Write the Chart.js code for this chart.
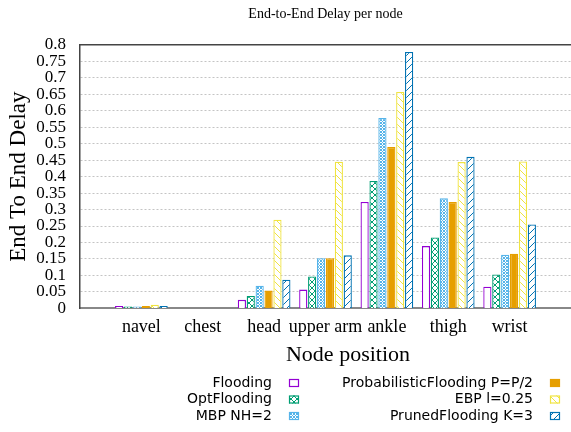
<!DOCTYPE html>
<html>
<head>
<meta charset="utf-8">
<script src="https://cdn.jsdelivr.net/npm/chart.js@4"></script>
<style>
    html, body { margin: 0; padding: 0; background: #fff; }
    #wrap { width: 571px; height: 432px; }
</style>
</head>
<body>
<div id="wrap"><canvas id="delayChart"></canvas></div>
<script>

const nodes = ['navel', 'chest', 'head', 'upper arm', 'ankle', 'thigh', 'wrist'];

const flooding      = [0.007, 0, 0.026, 0.057, 0.323, 0.189, 0.066];
const optFlooding   = [0.006, 0, 0.038, 0.097, 0.387, 0.215, 0.103];
const mbp           = [0.006, 0, 0.069, 0.152, 0.578, 0.334, 0.163];
const probFlooding  = [0.007, 0, 0.054, 0.152, 0.490, 0.323, 0.166];
const ebp           = [0.011, 0, 0.269, 0.445, 0.657, 0.444, 0.446];
const prunedFlooding = [0.007, 0, 0.087, 0.161, 0.778, 0.460, 0.255];

const yTicks = [0, 0.05, 0.1, 0.15, 0.2, 0.25, 0.3, 0.35, 0.4, 0.45, 0.5, 0.55, 0.6, 0.65, 0.7, 0.75, 0.8];

const colors = {
    purple: '#9400d3',
    green: '#009e73',
    sky: '#56b4e9',
    orange: '#e69f00',
    yellow: '#f0e442',
    blue: '#0072b2'
};

const serif = "'Liberation Serif', 'DejaVu Serif', serif";
const sans = "'DejaVu Sans', sans-serif";


// gnuplot-like fill patterns
function makePattern(color, kind) {
    const size = kind === 'fine' ? 3 : (kind === 'cross' ? 6 : 7);
    const c = document.createElement('canvas');
    c.width = size;
    c.height = size;
    const g = c.getContext('2d');
    g.fillStyle = '#fff';
    g.fillRect(0, 0, size, size);
    g.strokeStyle = color;
    g.lineWidth = 1;
    g.beginPath();
    if (kind === 'cross' || kind === 'fine' || kind === 'back') {
        g.moveTo(0, 0);
        g.lineTo(size, size);
    }
    if (kind === 'cross' || kind === 'fine' || kind === 'fwd') {
        g.moveTo(0, size);
        g.lineTo(size, 0);
    }
    g.stroke();
    return g.createPattern(c, 'repeat');
}

const ctxEl = document.getElementById('delayChart');

const series = [
    { label: 'Flooding', data: flooding, color: colors.purple, fill: '#fff' },
    { label: 'OptFlooding', data: optFlooding, color: colors.green, fill: makePattern(colors.green, 'cross') },
    { label: 'MBP NH=2', data: mbp, color: colors.sky, fill: makePattern(colors.sky, 'fine') },
    { label: 'ProbabilisticFlooding P=P/2', data: probFlooding, color: colors.orange, fill: colors.orange },
    { label: 'EBP l=0.25', data: ebp, color: colors.yellow, fill: makePattern(colors.yellow, 'back') },
    { label: 'PrunedFlooding K=3', data: prunedFlooding, color: colors.blue, fill: makePattern(colors.blue, 'fwd') }
];


// x label and legend drawn gnuplot style: right aligned text, key box after it
const gnuLegend = {
    id: 'gnuLegend',
    afterDraw(chart) {
        const ctx = chart.ctx;
        const H = chart.height;
        const area = chart.chartArea;
        ctx.save();

        ctx.font = '22px ' + serif;
        ctx.fillStyle = '#000';
        ctx.textAlign = 'center';
        ctx.textBaseline = 'middle';
        ctx.fillText('Node position', area.left + 268, area.bottom + 47);

        const cols = [{ textRight: 272, box: 289 }, { textRight: 533, box: 550 }];
        ctx.font = '14px ' + sans;
        ctx.textAlign = 'right';
        chart.data.datasets.forEach((ds, i) => {
            const col = cols[Math.floor(i / 3)];
            const y = H - 49 + (i % 3) * 16.5;
            ctx.fillStyle = '#000';
            ctx.fillText(ds.label, col.textRight, y);
            ctx.fillStyle = ds.backgroundColor;
            ctx.fillRect(col.box, y - 4, 10, 8);
            ctx.strokeStyle = ds.borderColor;
            ctx.lineWidth = 1.2;
            ctx.strokeRect(col.box + 0.5, y - 3.5, 9, 7);
        });
        ctx.restore();
    }
};


new Chart(ctxEl, {
    type: 'bar',
    data: {
        datasets: series.map(s => ({
            label: s.label,
            data: s.data.map((v, i) => ({ x: i, y: v })),
            backgroundColor: s.fill,
            borderColor: s.color,
            borderWidth: 1.3,
            borderSkipped: 'start'
        }))
    },
    options: {
        responsive: true,
        maintainAspectRatio: false,
        animation: false,
        categoryPercentage: 0.87,
        barPercentage: 0.92,
        layout: {
            padding: { left: 0, right: 0, top: 4, bottom: 86 }
        },
        plugins: {
            legend: { display: false },
            tooltip: { enabled: false },
            title: {
                display: true,
                text: 'End-to-End Delay per node',
                fullSize: false,
                color: '#000',
                font: { family: serif, size: 14, weight: 'normal' },
                padding: { top: 2, bottom: 22 }
            }
        },
        scales: {
            x: {
                type: 'linear',
                min: -1,
                max: 7,
                offset: false,
                afterBuildTicks: axis => {
                    axis.ticks = nodes.map((_, i) => ({ value: i }));
                },
                ticks: {
                    autoSkip: false,
                    maxRotation: 0,
                    padding: 8,
                    color: '#000',
                    font: { family: serif, size: 18 },
                    callback: v => nodes[v]
                },
                grid: { display: false, drawTicks: false },
                border: { color: '#888', width: 2 }
            },
            top: {
                type: 'linear',
                position: 'top',
                display: true,
                ticks: { display: false },
                grid: { display: false, drawTicks: false },
                border: { color: '#444', width: 1.5 }
            },
            y: {
                min: 0,
                max: 0.8,
                afterBuildTicks: axis => {
                    axis.ticks = yTicks.map(v => ({ value: v }));
                },
                afterFit: axis => {
                    axis.width = 80;
                },
                ticks: {
                    autoSkip: false,
                    padding: 14,
                    color: '#000',
                    font: { family: serif, size: 17 },
                    callback: v => String(Number(v.toFixed(2)))
                },
                grid: {
                    color: '#c4c4c4',
                    lineWidth: 1,
                    drawTicks: false
                },
                border: { color: '#444', width: 1.5, dash: [2, 2] },
                title: {
                    display: true,
                    text: 'End To End Delay',
                    color: '#000',
                    font: { family: serif, size: 23 },
                    padding: { top: 5, bottom: 0 }
                }
            }
        }
    },
    plugins: [gnuLegend]
});
</script>
</body>
</html>
